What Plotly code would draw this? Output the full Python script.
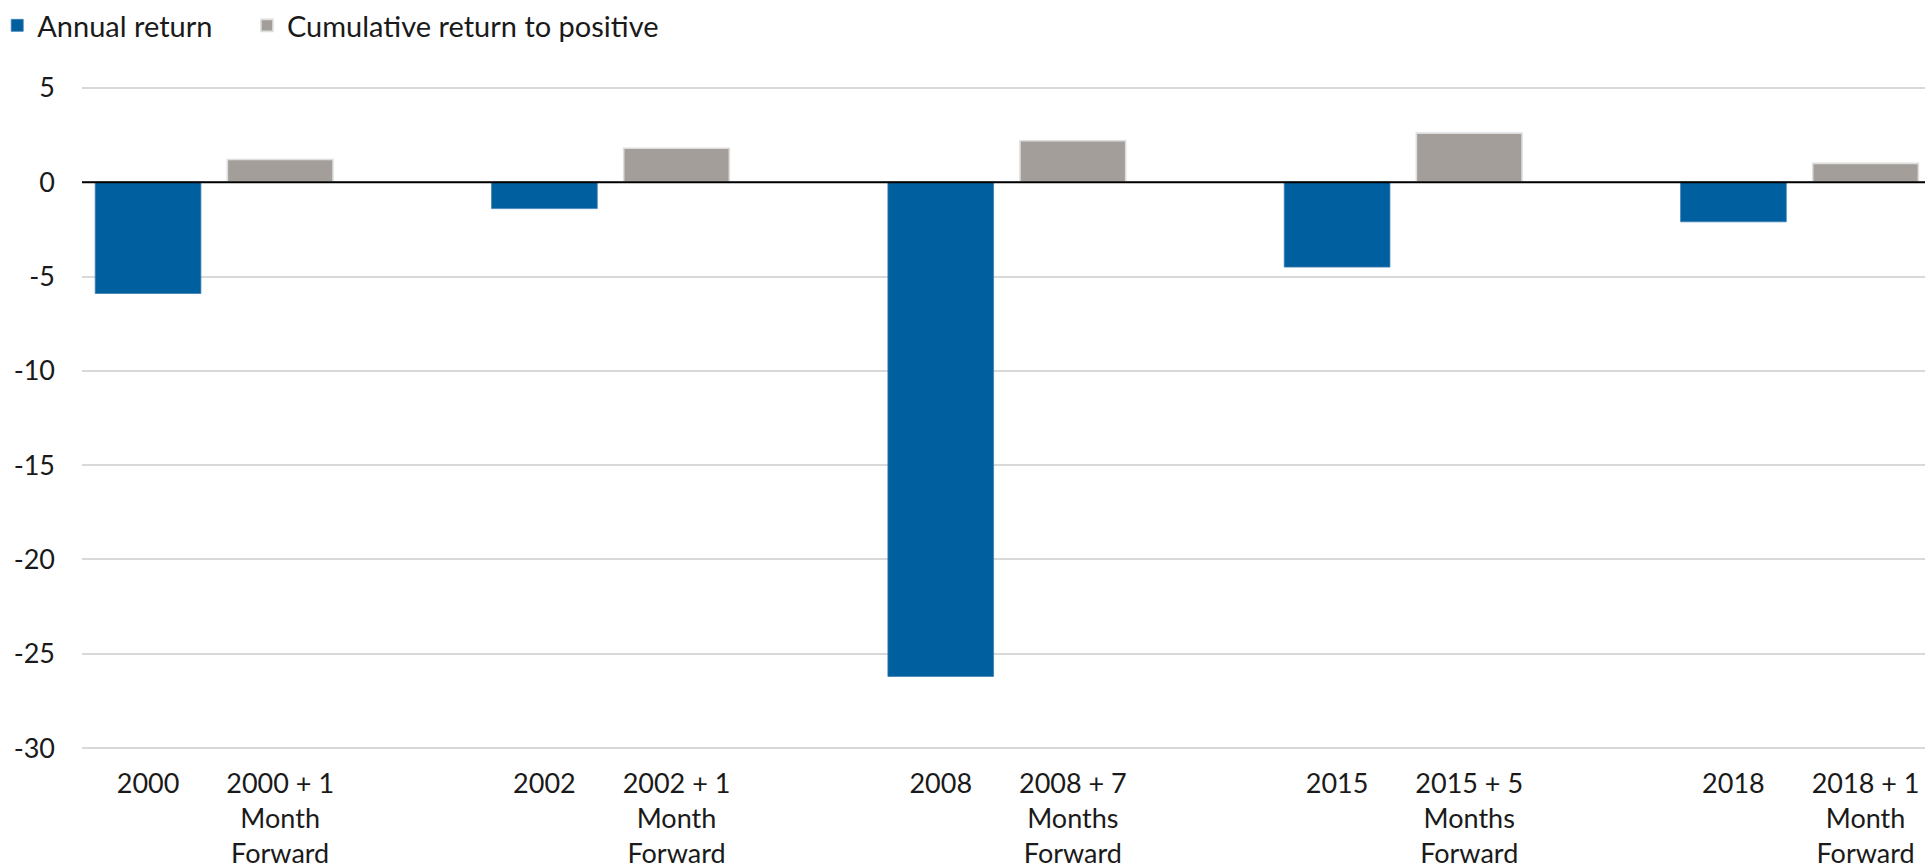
import plotly.graph_objects as go

# ---- data ----
years = ["2000", "2002", "2008", "2015", "2018"]
forward_labels = [
    "2000 + 1<br>Month<br>Forward",
    "2002 + 1<br>Month<br>Forward",
    "2008 + 7<br>Months<br>Forward",
    "2015 + 5<br>Months<br>Forward",
    "2018 + 1<br>Month<br>Forward",
]
annual_return = [-5.9, -1.4, -26.2, -4.5, -2.1]
cumulative_return = [1.2, 1.8, 2.2, 2.6, 1.0]
y_tickvals = [-30, -25, -20, -15, -10, -5, 0, 5]
y_ticktext = ["-30", "-25", "-20", "-15", "-10", "-5", "0", "5"]

# category order: year, forward, spacer
spacers = [" " * (i + 1) for i in range(len(years))]
category_order = []
for y, f, s in zip(years, forward_labels, spacers):
    category_order += [y, f, s]

BLUE = "#005F9E"
GRAY = "#A39E99"
FONT = "Lato"
TEXT = "#1a1a1a"

fig = go.Figure()
fig.add_trace(go.Bar(
    x=years, y=annual_return, name="Annual return",
    marker=dict(color=BLUE, line=dict(color="#3d7fb5", width=0.8)),
    width=0.8, legend="legend",
))
fig.add_trace(go.Bar(
    x=forward_labels, y=cumulative_return, name="Cumulative return to positive",
    marker=dict(color=GRAY, line=dict(color="#dedede", width=1.6)),
    width=0.8, legend="legend2",
))

fig.add_shape(type="line", xref="paper", x0=0, x1=1, yref="y", y0=0, y1=0,
              line=dict(color="#000000", width=2), layer="above")

legend_common = dict(
    orientation="h", xanchor="left",
    y=1.0, yref="container", yanchor="top",
    font=dict(family=FONT, size=29, color=TEXT),
    itemwidth=30, bgcolor="rgba(0,0,0,0)",
)

fig.update_layout(
    width=1925, height=868,
    margin=dict(l=82, r=0, t=86, b=118, autoexpand=False),
    paper_bgcolor="white", plot_bgcolor="white",
    barmode="overlay",
    font=dict(family=FONT, size=26, color=TEXT),
    showlegend=True,
    legend=dict(x=-0.046, **legend_common),
    legend2=dict(x=0.0895, **legend_common),
    xaxis=dict(
        type="category", categoryorder="array", categoryarray=category_order,
        range=[-0.5, 13.45], showgrid=False, zeroline=False, showline=False,
        ticks="", tickfont=dict(family=FONT, size=27, color=TEXT),
        ticklabelstandoff=15, fixedrange=True, automargin=False,
    ),
    yaxis=dict(
        range=[-30.1, 5.1], tickvals=y_tickvals, ticktext=y_ticktext,
        showgrid=True, gridcolor="#d9d9d9", gridwidth=2,
        zeroline=False, showline=False, ticks="",
        tickfont=dict(family=FONT, size=27, color=TEXT),
        ticklabelstandoff=26, automargin=False,
    ),
)

fig.write_html("out.html")
